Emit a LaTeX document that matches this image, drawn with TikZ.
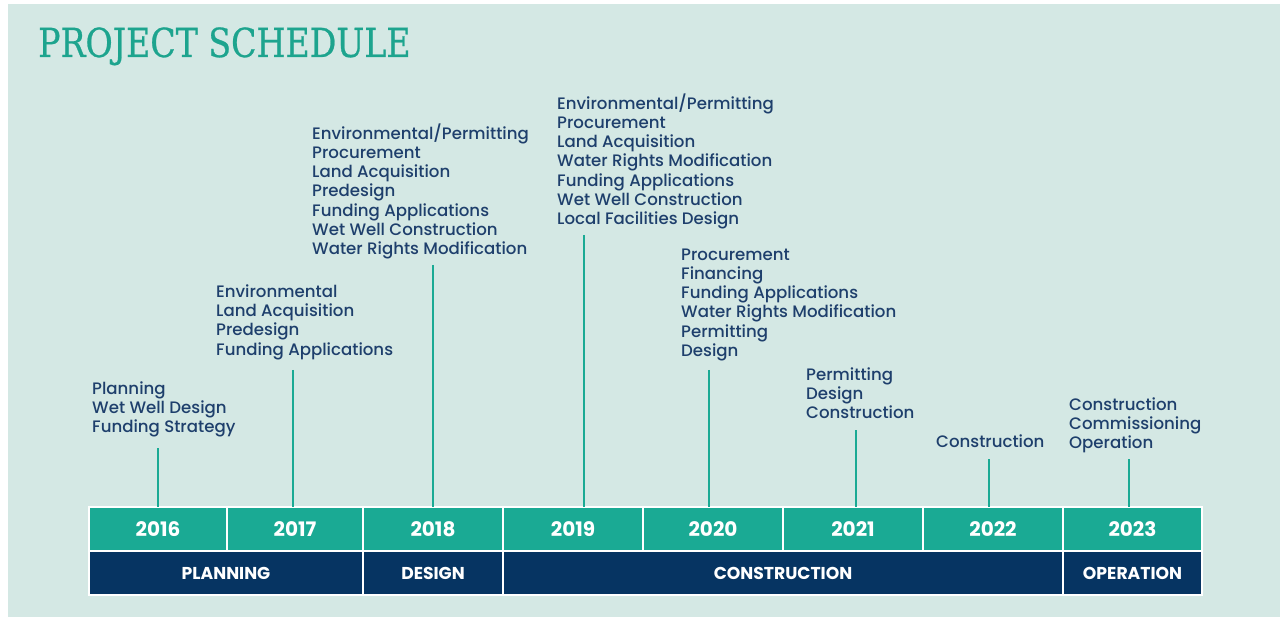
\documentclass[tikz,border=0pt]{standalone}
\usepackage{fontspec}
\setmainfont{Poppins}[UprightFont={* Medium}, BoldFont={* Bold}]
\newfontfamily\titlefont[FakeStretch=0.83, FakeBold=0.6]{DejaVu Serif}
\definecolor{bgmint}{HTML}{D4E8E4}
\definecolor{teal}{HTML}{1AAA94}
\definecolor{titleteal}{HTML}{1DA48E}
\definecolor{navy}{HTML}{063462}
\definecolor{txtnavy}{HTML}{1E3F6C}
\newcommand{\phlbl}[1]{\raisebox{-1.5pt}{#1}}
\tikzset{
  yearbox/.style={draw=white, line width=1.5pt, fill=teal, text=white, inner sep=0pt, outer sep=0pt,
    minimum height=44pt, font=\fontsize{20}{20}\selectfont\bfseries},
  phasebox/.style={draw=white, line width=1.5pt, fill=navy, text=white, inner sep=0pt, outer sep=0pt,
    minimum height=44pt, font=\fontsize{17.2}{17.2}\selectfont\bfseries},
  lbl/.style={anchor=north west, align=left, inner sep=0pt, text=txtnavy,
    font=\fontsize{16.6}{19.2}\selectfont},
  stem/.style={draw=teal, line width=2pt},
}
\begin{document}
\begin{tikzpicture}[x=1pt, y=-1pt]
\useasboundingbox (0,0) rectangle (1285,617);
\fill[white] (0,0) rectangle (1285,617);
\fill[bgmint] (8,4) rectangle (1280,617);

\node[anchor=base west, inner sep=0pt, text=titleteal, font=\titlefont\fontsize{40}{40}\selectfont] (title) at (38,57) {PROJECT SCHEDULE};

% year row
\node[yearbox, minimum width=138pt] (y2016) at (158,529) {2016};
\node[yearbox, minimum width=136pt] (y2017) at (295,529) {2017};
\node[yearbox, minimum width=140pt] (y2018) at (433,529) {2018};
\node[yearbox, minimum width=140pt] (y2019) at (573,529) {2019};
\node[yearbox, minimum width=140pt] (y2020) at (713,529) {2020};
\node[yearbox, minimum width=140pt] (y2021) at (853,529) {2021};
\node[yearbox, minimum width=140pt] (y2022) at (993,529) {2022};
\node[yearbox, minimum width=139pt] (y2023) at (1132.5,529) {2023};

% phase row
\node[phasebox, minimum width=274pt] (pplan) at (226,573) {\phlbl{PLANNING}};
\node[phasebox, minimum width=140pt] (pdes) at (433,573) {\phlbl{DESIGN}};
\node[phasebox, minimum width=560pt] (pcons) at (783,573) {\phlbl{CONSTRUCTION}};
\node[phasebox, minimum width=139pt] (pop) at (1132.5,573) {\phlbl{OPERATION}};

% labels
\node[lbl] (l2016) at (92,381.5) {Planning\\Wet Well Design\\Funding Strategy};
\node[lbl] (l2017) at (216,284.5) {Environmental\\Land Acquisition\\Predesign\\Funding Applications};
\node[lbl] (l2018) at (312,123.5) {Environmental/Permitting\\Procurement\\Land Acquisition\\Predesign\\Funding Applications\\Wet Well Construction\\Water Rights Modification};
\node[lbl] (l2019) at (557,93.5) {Environmental/Permitting\\Procurement\\Land Acquisition\\Water Rights Modification\\Funding Applications\\Wet Well Construction\\Local Facilities Design};
\node[lbl] (l2020) at (681,248.5) {Procurement\\Financing\\Funding Applications\\Water Rights Modification\\Permitting\\Design};
\node[lbl] (l2021) at (806,367.5) {Permitting\\Design\\Construction};
\node[lbl] (l2022) at (936,435) {Construction};
\node[lbl] (l2023) at (1069,397.5) {Construction\\Commissioning\\Operation};

% stems
\coordinate (t2016) at (158,448);
\coordinate (t2017) at (293,370);
\coordinate (t2018) at (433,265);
\coordinate (t2019) at (584,235);
\coordinate (t2020) at (709,370);
\coordinate (t2021) at (856,430);
\coordinate (t2022) at (989,459);
\coordinate (t2023) at (1129,459);
\draw[stem] (t2016) -- (t2016 |- y2016.north);
\draw[stem] (t2017) -- (t2017 |- y2017.north);
\draw[stem] (t2018) -- (t2018 |- y2018.north);
\draw[stem] (t2019) -- (t2019 |- y2019.north);
\draw[stem] (t2020) -- (t2020 |- y2020.north);
\draw[stem] (t2021) -- (t2021 |- y2021.north);
\draw[stem] (t2022) -- (t2022 |- y2022.north);
\draw[stem] (t2023) -- (t2023 |- y2023.north);
\end{tikzpicture}
\end{document}
